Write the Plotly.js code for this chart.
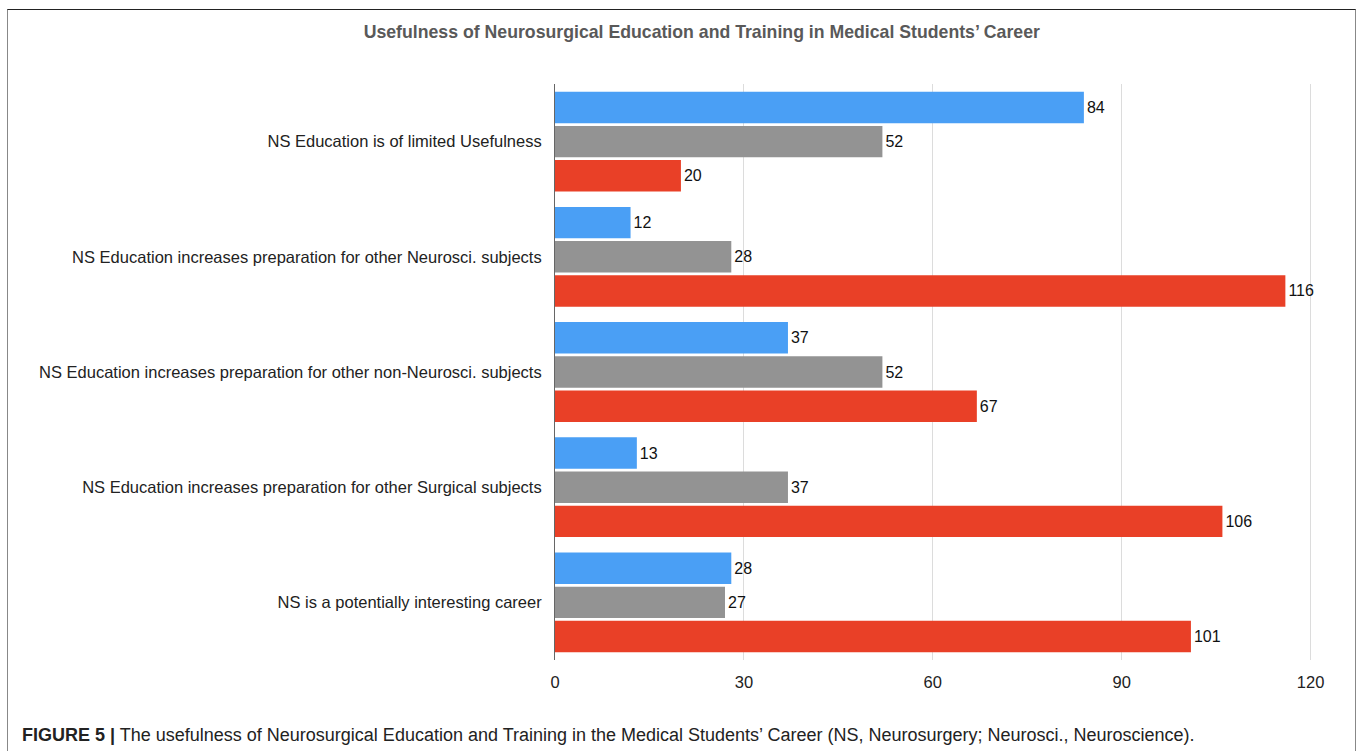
<!DOCTYPE html>
<html>
<head>
<meta charset="utf-8">
<script src="https://cdn.plot.ly/plotly-3.0.1.min.js"></script>
<style>
  html, body { margin: 0; padding: 0; background: #fff; }
  #wrap { position: relative; width: 1360px; height: 751px; overflow: hidden; }
  #chart { position: absolute; left: 0; top: 0; width: 1360px; height: 751px; }
  #frame { position: absolute; left: 7px; top: 9px; width: 1347px; height: 760px;
           border-top: 1.5px solid #222; border-left: 1.5px solid #888; border-right: 1.5px solid #888;
           pointer-events: none; }
</style>
</head>
<body>
<div id="wrap">
  <div id="chart"></div>
  <div id="frame"></div>
</div>
<script>
const categories = [
  "NS Education is of limited Usefulness",
  "NS Education increases preparation for other Neurosci. subjects",
  "NS Education increases preparation for other non-Neurosci. subjects",
  "NS Education increases preparation for other Surgical subjects",
  "NS is a potentially interesting career"
];
const blueValues = [84, 12, 37, 13, 28];
const grayValues = [52, 28, 52, 37, 27];
const redValues  = [20, 116, 67, 106, 101];
const xTicks = [0, 30, 60, 90, 120];
const titleText = "Usefulness of Neurosurgical Education and Training in Medical Students\u2019 Career";
const captionBold = "FIGURE 5 |";
const captionText = " The usefulness of Neurosurgical Education and Training in the Medical Students\u2019 Career (NS, Neurosurgery; Neurosci., Neuroscience).";

function mk(vals, color) {
  return {
    type: 'bar', orientation: 'h', x: vals, y: categories,
    marker: { color: color }, text: vals.map(String), textposition: 'outside',
    textfont: { family: 'Liberation Sans, Arial, sans-serif', size: 16, color: '#111' },
    cliponaxis: false, hoverinfo: 'x+y', showlegend: false
  };
}
const data = [mk(blueValues, '#4A9FF5'), mk(grayValues, '#939393'), mk(redValues, '#E94027')];

const layout = {
  width: 1360, height: 751,
  margin: { l: 555, r: 40, t: 84, b: 91 },
  paper_bgcolor: '#fff', plot_bgcolor: '#fff',
  barmode: 'group', bargap: 0.11, bargroupgap: 0.08,
  title: { text: '<b>' + titleText + '</b>', x: 0.516, xanchor: 'center', y: 0.958, yanchor: 'middle',
           font: { family: 'Liberation Sans, Arial, sans-serif', size: 17.7, color: '#595959' } },
  xaxis: { range: [0, 121.5], tickvals: xTicks, ticktext: xTicks.map(String), showgrid: true,
           gridcolor: '#dcdcdc', gridwidth: 1, zeroline: false, showline: false, ticks: '',
           ticklabelstandoff: 10,
           tickfont: { family: 'Liberation Sans, Arial, sans-serif', size: 16.5, color: '#222' }, fixedrange: true },
  yaxis: { type: 'category', categoryorder: 'array', categoryarray: categories, autorange: 'reversed',
           showline: true, linecolor: '#666', linewidth: 1, showgrid: false, ticks: '', ticklabelstandoff: 9,
           tickfont: { family: 'Liberation Sans, Arial, sans-serif', size: 16.5, color: '#222' }, fixedrange: true },
  annotations: [{
    xref: 'paper', yref: 'paper', x: -0.699, y: -0.131, xanchor: 'left', yanchor: 'middle', showarrow: false,
    text: '<b>' + captionBold + '</b>' + captionText,
    font: { family: 'Liberation Sans Narrow, Liberation Sans, Arial, sans-serif', size: 18, color: '#222' }
  }]
};
Plotly.newPlot('chart', data, layout, { displayModeBar: false, staticPlot: true });
</script>
</body>
</html>
